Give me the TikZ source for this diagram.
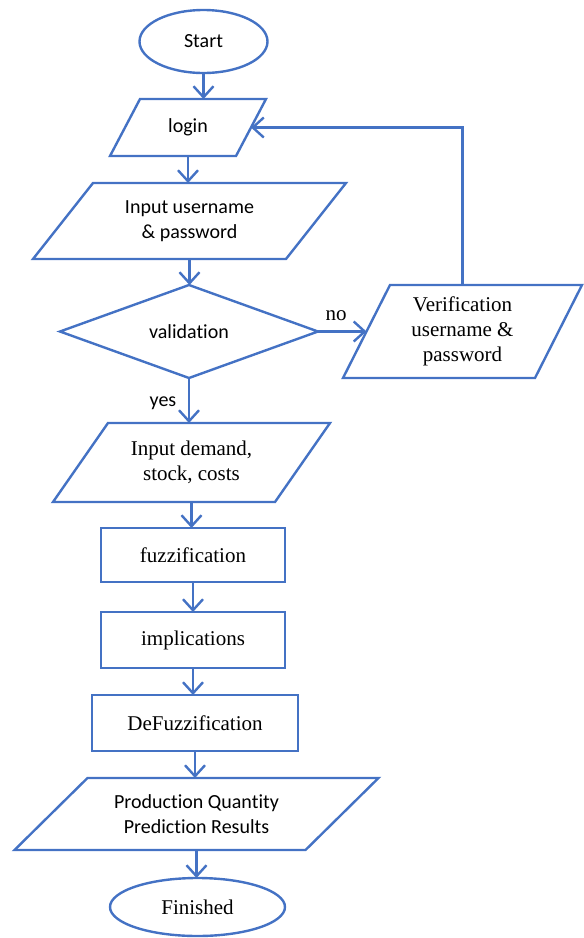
\documentclass[tikz,border=0pt]{standalone}
\usepackage{fontspec}
\setmainfont{Liberation Serif}
\newfontfamily\calfont[Ligatures=NoCommon]{Carlito}
\usetikzlibrary{shapes.geometric,arrows.meta}
\definecolor{fcblue}{HTML}{4472C4}
\tikzset{
  base/.style={draw=fcblue, line width=2.4pt, align=center, text=black, inner sep=0pt, outer sep=0pt},
  term/.style={base, ellipse},
  box/.style={base, rectangle},
  iotext/.style={rectangle, inner sep=0pt, outer sep=0pt, align=center},
  paraline/.style={draw=fcblue, line width=2.4pt, line join=miter},
  dec/.style={base, diamond},
  conn/.style={draw=fcblue, line width=2.4pt, -{Straight Barb[length=11pt,width=20pt]}},
  serif/.style={font=\fontsize{21}{25}\selectfont},
  sans/.style={font=\calfont\fontsize{20}{25}\selectfont},
}
\newcommand{\paragram}[2]{%
  \draw[paraline] ([xshift=#2/2]#1.north west) -- ([xshift=#2/2]#1.north east)
    -- ([xshift=-#2/2]#1.south east) -- ([xshift=-#2/2]#1.south west) -- cycle;}
\begin{document}
\begin{tikzpicture}[x=1pt, y=-1pt]
\useasboundingbox (0,0) rectangle (584,938);
% nodes
\node[term, sans, minimum width=128pt, minimum height=63pt] (start) at (203.5,41.5) {Start};
\node[iotext, sans, minimum width=126pt, minimum height=57pt] (login) at (188,127.5) {login};
\node[iotext, sans, minimum width=253pt, minimum height=76pt] (inp) at (189.5,221) {Input username\\\& password};
\node[dec, sans, aspect=2.77, minimum width=258pt, minimum height=93pt] (valid) at (189,331.5) {validation};
\node[iotext, serif, minimum width=192pt, minimum height=93pt] (verif) at (462.5,331.5) {Verification\\username \&\\password};
\node[iotext, serif, minimum width=222pt, minimum height=79pt] (demand) at (191.5,462.5) {Input demand,\\stock, costs};
\node[box, serif, minimum width=184pt, minimum height=54pt] (fuzz) at (193,555) {fuzzification};
\node[box, serif, minimum width=184pt, minimum height=56pt] (impl) at (193,640) {implications};
\node[box, serif, minimum width=206pt, minimum height=56pt] (defuzz) at (195,723) {DeFuzzification};
\node[iotext, sans, minimum width=291pt, minimum height=72pt] (prod) at (196.5,814) {Production Quantity\\Prediction Results};
\node[term, serif, minimum width=175pt, minimum height=58pt] (fin) at (197.5,907) {Finished};
% parallelograms
\paragram{login}{30pt}
\paragram{inp}{60pt}
\paragram{verif}{47pt}
\paragram{demand}{55pt}
\paragram{prod}{73pt}
% labels
\node[serif] (nolbl) at (336,316) {no};
\node[sans] (yeslbl) at (163,403) {yes};
% connectors
\draw[conn] (start.south) -- (start.south |- login.north);
\draw[conn] (login.south) -- (login.south |- inp.north);
\draw[conn] (inp.south) -- (inp.south |- valid.north);
\draw[conn] (valid.east) -- (verif.west);
\draw[conn] (verif.north) |- (login.east);
\draw[conn] (valid.south) -- (valid.south |- demand.north);
\draw[conn] (demand.south) -- (demand.south |- fuzz.north);
\draw[conn] (fuzz.south) -- (fuzz.south |- impl.north);
\draw[conn] (impl.south) -- (impl.south |- defuzz.north);
\draw[conn] (defuzz.south) -- (defuzz.south |- prod.north);
\draw[conn] (prod.south) -- (prod.south |- fin.north);
\end{tikzpicture}
\end{document}
